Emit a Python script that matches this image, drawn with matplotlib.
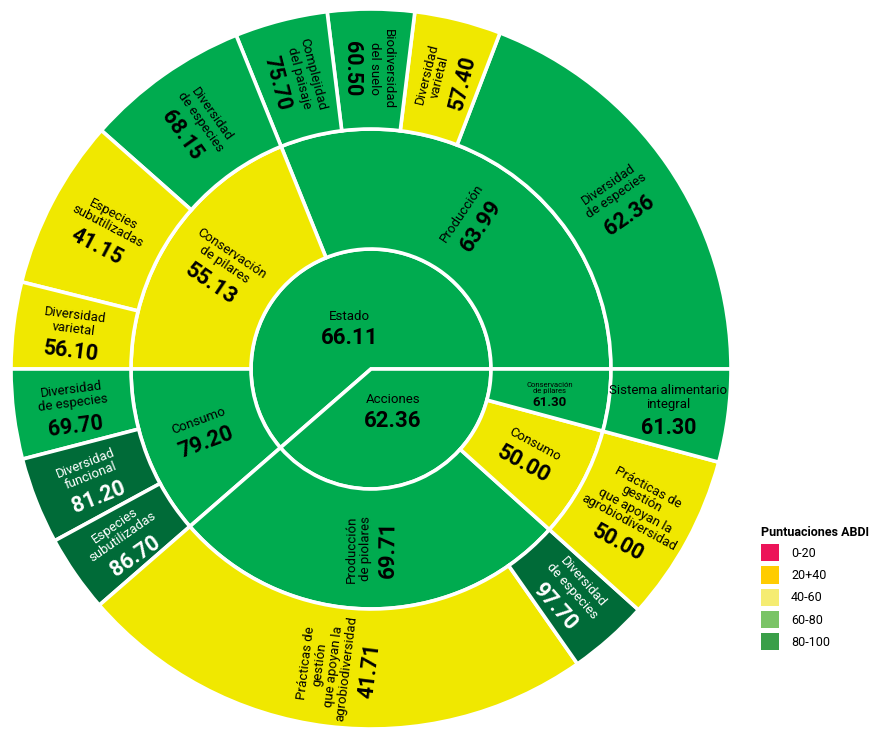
import matplotlib.pyplot as plt
import numpy as np
from matplotlib.patches import Patch

plt.rcParams['font.family'] = ['Roboto', 'DejaVu Sans']

# centre: two halves
inner_labels = ["Estado", "Acciones"]
inner_values = [66.11, 62.36]
inner_spans = [221, 139]

# middle ring
mid_labels = ["Producción", "Conservación\nde pilares", "Consumo",
              "Producción\nde piolares", "Consumo", "Conservación\nde pilares"]
mid_values = [63.99, 55.13, 79.20, 69.71, 50.00, 61.30]
mid_spans = [112, 68, 41, 97, 27, 15]

# outer ring
outer_labels = ["Diversidad\nde especies", "Diversidad\nvarietal",
                "Biodiversidad\ndel suelo", "Complejidad\ndel paisaje",
                "Diversidad\nde especies", "Especies\nsubutilizadas",
                "Diversidad\nvarietal",
                "Diversidad\nde especies", "Diversidad\nfuncional",
                "Especies\nsubutilizadas",
                "Prácticas de\ngestión\nque apoyan la\nagrobiodiversidad",
                "Diversidad\nde especies",
                "Prácticas de\ngestión\nque apoyan la\nagrobiodiversidad",
                "Sistema alimentario\nintegral"]
outer_values = [62.36, 57.40, 60.50, 75.70, 68.15, 41.15, 56.10,
                69.70, 81.20, 86.70, 41.71, 97.70, 50.00, 61.30]
outer_spans = [69, 14, 14, 15, 26.5, 27.5, 14, 14.5, 14, 12.5, 84, 13, 27, 15]

legend_labels = ["0-20", "20+40", "40-60", "60-80", "80-100"]
legend_colors = ["#EC1459", "#FFCC00", "#F5EC72", "#7AC466", "#3A9F48"]

YELLOW = "#F0E800"
GREEN = "#00AB4F"
DARK = "#006B38"


def cell_color(v):
    if v < 60:
        return YELLOW
    if v < 80:
        return GREEN
    return DARK


fig = plt.figure(figsize=(8.74, 7.29), dpi=100)
# centre of the sunburst at (371, 369) px, outer radius 360 px
R = 360
ax = fig.add_axes([(371 - R) / 874, (729 - 369 - R) / 729, 2 * R / 874, 2 * R / 729])
ax.set_xlim(-1, 1)
ax.set_ylim(-1, 1)
ax.axis('off')

r1 = 120 / R
r2 = 240 / R
edge = dict(edgecolor='white', linewidth=2.6)

ax.pie(inner_spans, radius=r1, startangle=0, counterclock=True,
       colors=[cell_color(v) for v in inner_values], wedgeprops=edge)
ax.pie(mid_spans, radius=r2, startangle=0, counterclock=True,
       colors=[cell_color(v) for v in mid_values],
       wedgeprops=dict(width=r2 - r1, **edge))
ax.pie(outer_spans, radius=1, startangle=0, counterclock=True,
       colors=[cell_color(v) for v in outer_values],
       wedgeprops=dict(width=1 - r2, **edge))
ax.set_xlim(-1, 1)
ax.set_ylim(-1, 1)


def mids(spans):
    edges = np.concatenate([[0], np.cumsum(spans)])
    return (edges[:-1] + edges[1:]) / 2


def radial_rot(a):
    if 90 <= a < 270:
        return a - 180
    if a >= 270:
        return a - 360
    return a


def put(label, value, ang, r, rot, lsize=9.5, vsize=15.5, gap=4):
    color = 'white' if value >= 80 else 'black'
    x, y = r * np.cos(np.radians(ang)), r * np.sin(np.radians(ang))
    n = label.count("\n") + 1
    hl = n * lsize * 1.2
    hv = vsize * 0.95 + gap
    off = (hv - hl) / 2
    ux, uy = -np.sin(np.radians(rot)), np.cos(np.radians(rot))
    ax.annotate(label, (x, y), xytext=(ux * off, uy * off), textcoords='offset points',
                rotation=rot, rotation_mode='anchor', ha='center', va='bottom',
                fontsize=lsize, color=color, linespacing=1.05)
    ax.annotate(f"{value:.2f}", (x, y), xytext=(ux * (off - gap), uy * (off - gap)),
                textcoords='offset points', rotation=rot, rotation_mode='anchor',
                ha='center', va='top', fontsize=vsize, fontweight='bold', color=color)


# centre labels (horizontal), nudged off the mid-angle like the original
for lab, val, a in zip(inner_labels, inner_values, mids(inner_spans)):
    put(lab, val, a + 7, 0.13, 0, lsize=9.5, vsize=16, gap=3)

# middle ring
for i, (lab, val, a) in enumerate(zip(mid_labels, mid_values, mids(mid_spans))):
    if i == 5:
        put(lab, val, a, (r1 + r2) / 2, 0, lsize=5.5, vsize=9.5, gap=1.5)
    else:
        put(lab, val, a, (r1 + r2) / 2, radial_rot(a), lsize=9.5, vsize=16)

# outer ring
for i, (lab, val, a) in enumerate(zip(outer_labels, outer_values, mids(outer_spans))):
    rot = 0 if i == 13 else radial_rot(a)
    put(lab, val, a, (r2 + 1) / 2, rot, lsize=9.5, vsize=15.5)

handles = [Patch(facecolor=c, edgecolor='none') for c in legend_colors]
leg = fig.legend(handles, legend_labels, title="Puntuaciones ABDI",
                 loc='upper left', bbox_to_anchor=(761 / 874, 1 - 526 / 729),
                 frameon=False, fontsize=9, handlelength=1.45, handleheight=1.75,
                 labelspacing=0.4, handletextpad=0.95, borderpad=0, borderaxespad=0,
                 alignment='left', title_fontproperties={'weight': 'bold', 'size': 9})

fig.savefig("out.png", dpi=100)
